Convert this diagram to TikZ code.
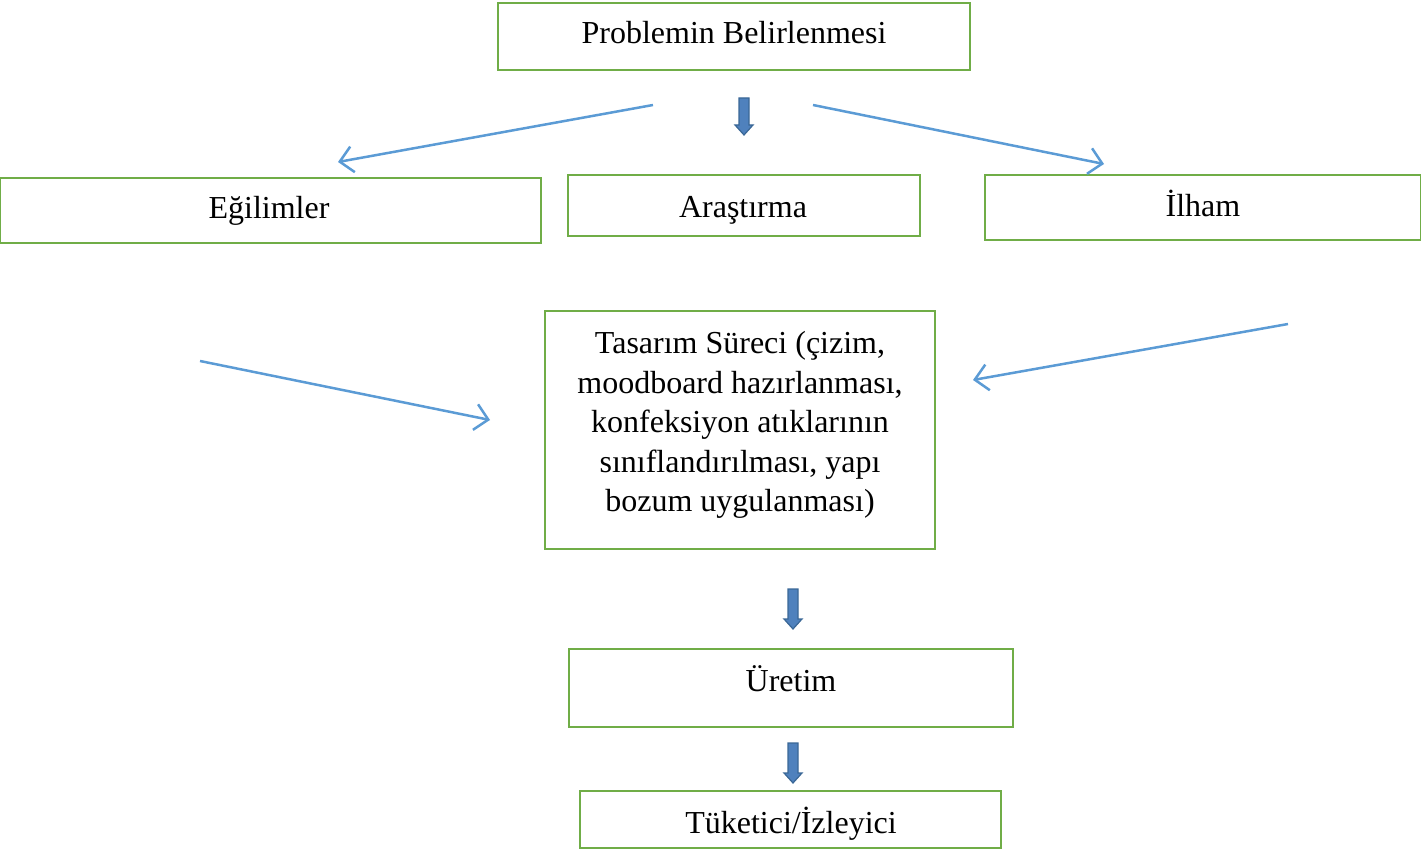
\documentclass[tikz,border=0pt]{standalone}
\usepackage{fontspec}
\setmainfont{Liberation Serif}
\usetikzlibrary{arrows.meta}
\definecolor{boxgreen}{HTML}{70AD47}
\definecolor{lineblue}{HTML}{5B9BD5}
\definecolor{blockfill}{HTML}{4F81BD}
\definecolor{blockedge}{HTML}{3A6796}
\tikzset{
  box/.style={draw=boxgreen, line width=2.5pt, rectangle, inner sep=0pt},
  txt/.style={inner sep=0pt, align=center, font=\fontsize{32}{39.5}\selectfont},
  thinarrow/.style={draw=lineblue, line width=2.5pt, -{Straight Barb[length=13pt,width=26pt,line width=2.5pt]}},
  blockarrow/.style={draw=blockedge, fill=blockfill, line width=1.2pt, line join=miter}
}
% block arrow: x, top y, bottom (tip) y
\newcommand\myblockarrow[3]{%
  \path[blockarrow] (#1-5,#2) -- (#1+5,#2) -- (#1+5,#3-10) -- (#1+9,#3-10) -- (#1,#3) -- (#1-9,#3-10) -- (#1-5,#3-10) -- cycle;}
\begin{document}
\begin{tikzpicture}[x=1pt,y=-1pt]
\useasboundingbox (0,0) rectangle (1421,850);
% boxes
\node[box, minimum width=472, minimum height=67] (prob) at (734,36.5) {};
\node[txt] at (734,33) {Problemin Belirlenmesi};
\node[box, minimum width=541, minimum height=65] (egil) at (270.5,210.5) {};
\node[txt] at (269,211) {Eğilimler};
\node[box, minimum width=352, minimum height=61] (aras) at (744,205.5) {};
\node[txt] at (743,210) {Araştırma};
\node[box, minimum width=436, minimum height=65] (ilham) at (1203,207.5) {};
\node[txt] at (1203,203) {İlham};
\node[box, minimum width=390, minimum height=238] (tas) at (740,430) {};
\node[txt] at (740,425) {Tasarım Süreci (çizim,\\moodboard hazırlanması,\\konfeksiyon atıklarının\\sınıflandırılması, yapı\\bozum uygulanması)};
\node[box, minimum width=444, minimum height=78] (uret) at (791,688) {};
\node[txt] at (791,679) {Üretim};
\node[box, minimum width=421, minimum height=57] (tuk) at (790.5,819.5) {};
\node[txt] at (791,824) {Tüketici/İzleyici};
% thin arrows
\coordinate (a1s) at (653,105); \coordinate (a1e) at (338,162);
\coordinate (a2s) at (813,105); \coordinate (a2e) at (1104,164);
\coordinate (a3s) at (200,361); \coordinate (a3e) at (490,420);
\coordinate (a4s) at (1288,324); \coordinate (a4e) at (973,380);
\draw[thinarrow] (a1s) -- (a1e);
\draw[thinarrow] (a2s) -- (a2e);
\draw[thinarrow] (a3s) -- (a3e);
\draw[thinarrow] (a4s) -- (a4e);
% block arrows
\myblockarrow{744}{98}{135}
\myblockarrow{793}{589}{629}
\myblockarrow{793}{743}{783}
\end{tikzpicture}
\end{document}
